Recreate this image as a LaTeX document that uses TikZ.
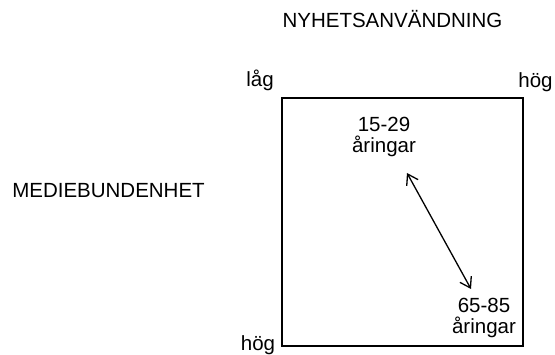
\documentclass[tikz,border=0pt]{standalone}
\usepackage{fontspec}
\setmainfont{Liberation Sans}
\usetikzlibrary{arrows.meta}

\begin{document}
\begin{tikzpicture}[x=1pt,y=-1pt,>={Straight Barb[length=10pt,width=13pt]},every node/.style={font=\fontsize{20.5}{21}\selectfont,inner sep=0pt}]
\useasboundingbox (0,0) rectangle (555,355);
\draw[line width=1.8pt] (282,98) rectangle (523,346);
\node[anchor=base] (nyhet) at (392.5,28) {NYHETSANVÄNDNING};
\node[anchor=base] (medie) at (108.5,198) {MEDIEBUNDENHET};
\node[anchor=base] (lag) at (260,87) {låg};
\node[anchor=base] (hogupp) at (535.5,88) {hög};
\node[anchor=base] (hogned) at (258,351) {hög};
\node[align=center,anchor=north] (unga) at (384,116.5) {15-29\\åringar};
\node[align=center,anchor=north] (aldre) at (484,297.5) {65-85\\åringar};
\coordinate (pilA) at (407,173);
\coordinate (pilB) at (471,289);
\draw[<->,line width=1.3pt] (pilA) -- (pilB);
\end{tikzpicture}
\end{document}
